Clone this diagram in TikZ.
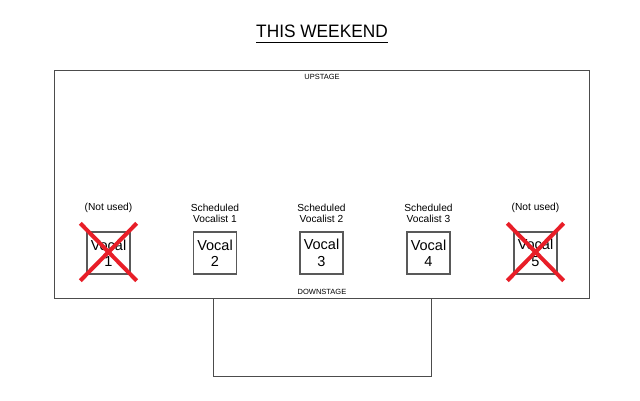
\documentclass[tikz,border=0pt]{standalone}
\usepackage{fontspec}
\setmainfont{Liberation Sans}
\begin{document}
\begin{tikzpicture}[x=1pt,y=-1pt,
  outline/.style={draw=black!70, line width=1pt},
  vbox/.style={draw=black!65, line width=1.3pt, minimum width=43pt, minimum height=42pt, inner sep=0pt, align=center, font=\fontsize{14.5}{16.5}\selectfont},
  lbl/.style={align=center, font=\fontsize{10.2}{11}\selectfont, inner sep=0pt},
  small/.style={font=\fontsize{7.5}{8}\selectfont, inner sep=0pt},
  redx/.style={draw={rgb,255:red,232;green,30;blue,40}, line width=4pt}]
\useasboundingbox (0,0) rectangle (640,400);
\fill[white] (0,0) rectangle (640,400);
% title
\node[inner sep=0pt, font=\fontsize{18}{20}\selectfont, xscale=0.96] (title) at (322,31) {THIS WEEKEND};
\draw[line width=1.1pt] (title.south west) ++(0,5) coordinate (ua) -- (title.south east |- ua);
% stage and apron
\draw[outline] (54,70) rectangle (589,298);
\draw[outline] (213,298) -- (213,376) -- (431,376) -- (431,298);
\node[small] (up) at (322,77) {UPSTAGE};
\node[small] (down) at (322,292) {DOWNSTAGE};
% vocal boxes
\foreach \i/\x in {1/108.5,2/215,3/321.5,4/428.5,5/535.5}{
  \node[vbox] (v\i) at (\x,253) {Vocal\\\i};
}
\node[lbl] (l1) at (108.5,208) {(Not used)};
\node[lbl] (l2) at (215,213.5) {Scheduled\\Vocalist 1};
\node[lbl] (l3) at (321.5,213.5) {Scheduled\\Vocalist 2};
\node[lbl] (l4) at (428.5,213.5) {Scheduled\\Vocalist 3};
\node[lbl] (l5) at (535.5,208) {(Not used)};
% red crosses
\foreach \i in {1,5}{
  \draw[redx] ([shift={(-6,-8)}]v\i.north west) -- ([shift={(6,6)}]v\i.south east);
  \draw[redx] ([shift={(6,-8)}]v\i.north east) -- ([shift={(-6,6)}]v\i.south west);
}
\end{tikzpicture}
\end{document}
